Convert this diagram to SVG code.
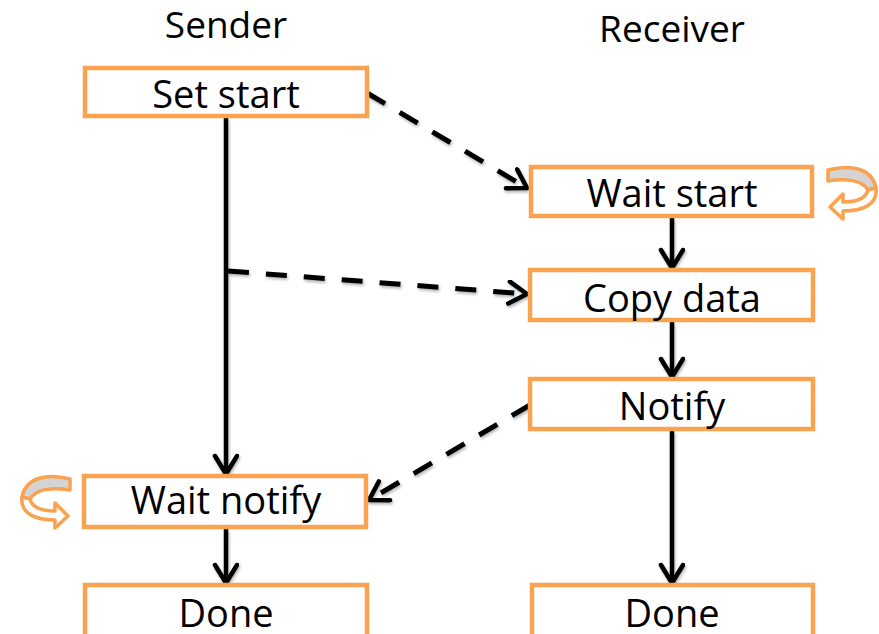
<svg xmlns="http://www.w3.org/2000/svg" width="879" height="634" viewBox="0 0 879 634">
  <style>
    .box rect { fill: #ffffff; stroke: #F9A24F; stroke-width: 4.5; }
    .box text { font-family: "Open Sans", "Noto Sans", sans-serif; font-size: 38px; fill: #000000; text-anchor: middle; }
    .title { font-family: "Open Sans", "Noto Sans", sans-serif; font-size: 37px; fill: #000000; text-anchor: middle; }
    .flow { fill: none; stroke: #000000; stroke-width: 4.5; }
    .dash { fill: none; stroke: #000000; stroke-width: 5; stroke-dasharray: 21 17; }
    .loop-back { fill: #D4D4D4; stroke: #F9A24F; stroke-width: 3.5; stroke-linejoin: round; }
    .loop-front { fill: #ffffff; stroke: #F9A24F; stroke-width: 3.5; stroke-linejoin: round; }
  </style>
  <defs>
    <marker id="chevron" markerUnits="userSpaceOnUse" markerWidth="30" markerHeight="30" refX="21" refY="13" orient="auto">
      <path d="M3,2 L21,13 L3,24" fill="none" stroke="#000000" stroke-width="4.5" stroke-dasharray="none" stroke-linecap="round" stroke-linejoin="round"/>
    </marker>
    <filter id="soft-shadow" x="-10%" y="-10%" width="120%" height="120%">
      <feDropShadow dx="1" dy="2" stdDeviation="1.5" flood-color="#000000" flood-opacity="0.3"/>
    </filter>
    <!-- circular "spin" glyph: grey back band and arrow-tipped front band -->
    <g id="spin">
      <path class="loop-back" d="M828,170 C850,164 872,168 876,188 L868,190 C862,180 846,178 828,181 Z"/>
      <path class="loop-front" d="M843,202 L843,194 L830,207 L843,219 L843,211 C862,211 878,205 876,188 L868,190 C866,198 858,202 843,202 Z"/>
    </g>
  </defs>

  <!-- column headings -->
  <text class="title" x="226" y="38">Sender</text>
  <text class="title" x="672" y="42">Receiver</text>

  <!-- connectors -->
  <g id="connectors" filter="url(#soft-shadow)">
    <line class="flow" x1="226" y1="118" x2="226" y2="474" marker-end="url(#chevron)"/>
    <line class="flow" x1="226" y1="529" x2="226" y2="583" marker-end="url(#chevron)"/>
    <line class="flow" x1="672" y1="218" x2="672" y2="268" marker-end="url(#chevron)"/>
    <line class="flow" x1="672" y1="322" x2="672" y2="377" marker-end="url(#chevron)"/>
    <line class="flow" x1="672" y1="431" x2="672" y2="583" marker-end="url(#chevron)"/>
    <line class="dash" x1="367" y1="93" x2="527" y2="188" marker-end="url(#chevron)"/>
    <line class="dash" x1="228" y1="271" x2="527" y2="294" marker-end="url(#chevron)"/>
    <line class="dash" x1="530" y1="405" x2="369" y2="500" marker-end="url(#chevron)"/>
  </g>

  <!-- sender side -->
  <g id="set-start" class="box">
    <rect x="85" y="68" width="282" height="48"/>
    <text x="226" y="108">Set start</text>
  </g>
  <g id="wait-notify" class="box">
    <rect x="84" y="476" width="282" height="51"/>
    <text x="226" y="514">Wait notify</text>
  </g>
  <g id="sender-done" class="box">
    <rect x="85" y="585" width="282" height="60"/>
    <text x="226" y="627">Done</text>
  </g>

  <!-- receiver side -->
  <g id="wait-start" class="box">
    <rect x="531" y="167" width="281" height="49"/>
    <text x="672" y="207">Wait start</text>
  </g>
  <g id="copy-data" class="box">
    <rect x="530" y="270" width="283" height="50"/>
    <text x="672" y="312">Copy data</text>
  </g>
  <g id="notify" class="box">
    <rect x="530" y="379" width="283" height="50"/>
    <text x="672" y="420">Notify</text>
  </g>
  <g id="receiver-done" class="box">
    <rect x="532" y="585" width="281" height="60"/>
    <text x="672" y="627">Done</text>
  </g>

  <!-- busy-wait glyphs -->
  <g id="spin-receiver">
    <use href="#spin"/>
  </g>
  <g id="spin-sender">
    <use href="#spin" transform="translate(898,309) scale(-1,1)"/>
  </g>
</svg>
